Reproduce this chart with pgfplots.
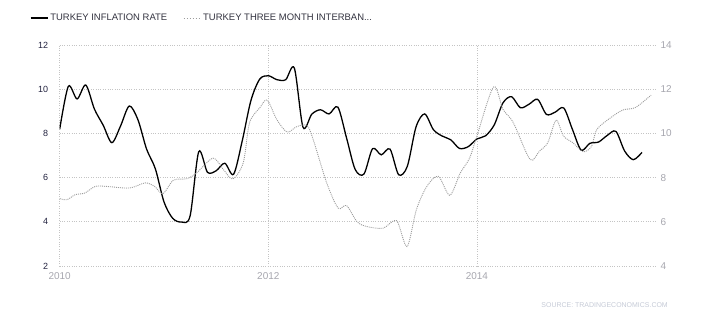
\documentclass[border=0pt]{standalone}
\usepackage{fontspec}
\setmainfont{Liberation Sans}
\usepackage{pgfplots}
\pgfplotsset{compat=1.18}
\definecolor{leftlab}{HTML}{22223F}
\definecolor{graylab}{HTML}{A6A6AE}
\definecolor{gridc}{HTML}{C4C4C4}
\definecolor{ibc}{HTML}{9C9C9C}
\definecolor{srcc}{HTML}{C5CAD6}
\definecolor{legc}{HTML}{333340}
\begin{document}
\begin{tikzpicture}
\useasboundingbox (0,0) rectangle (710bp,320bp);
\begin{axis}[
  at={(59.7bp,54bp)}, anchor=south west, scale only axis,
  width=597.3bp, height=221bp,
  xmin=2010, xmax=2015.727, ymin=2, ymax=12,
  ytick={2,4,6,8,10,12},
  xtick={2010,2012,2014}, xticklabels={2010,2012,2014},
  grid=major, major grid style={gridc, dotted, line width=0.6pt},
  axis line style={draw=none}, major tick length=0pt,
  /pgf/number format/assume math mode=true,
  yticklabel style={leftlab, font=\fontsize{9}{10}\selectfont, xshift=-8bp},
  xticklabel style={graylab, font=\fontsize{10}{10}\selectfont, yshift=-3bp},
  legend columns=2,
  legend image code/.code={\draw[#1] (0bp,0bp) -- (17bp,0bp);},
  legend style={draw=none, fill=none, at={(-0.05,1.122)}, anchor=west,
    font=\fontsize{9.5}{10}\selectfont, text=legc, inner sep=0pt,
    /tikz/every even column/.append style={column sep=14bp}},
]
\addplot[black, line width=1.3pt, smooth, tension=0.5] coordinates {
(2010.000,8.19) (2010.083,10.13) (2010.167,9.56) (2010.250,10.19) (2010.333,9.10) (2010.417,8.37)
(2010.500,7.58) (2010.583,8.33) (2010.667,9.24) (2010.750,8.62) (2010.833,7.29) (2010.917,6.40)
(2011.000,4.90) (2011.083,4.16) (2011.167,3.99) (2011.250,4.26) (2011.333,7.17) (2011.417,6.24)
(2011.500,6.31) (2011.583,6.65) (2011.667,6.15) (2011.750,7.66) (2011.833,9.48) (2011.917,10.45)
(2012.000,10.61) (2012.083,10.43) (2012.167,10.43) (2012.250,10.95) (2012.333,8.28) (2012.417,8.87)
(2012.500,9.07) (2012.583,8.88) (2012.667,9.19) (2012.750,7.80) (2012.833,6.37) (2012.917,6.16)
(2013.000,7.31) (2013.083,7.03) (2013.167,7.29) (2013.250,6.13) (2013.333,6.51) (2013.417,8.30)
(2013.500,8.88) (2013.583,8.17) (2013.667,7.88) (2013.750,7.71) (2013.833,7.32) (2013.917,7.40)
(2014.000,7.75) (2014.083,7.89) (2014.167,8.39) (2014.250,9.38) (2014.333,9.66) (2014.417,9.16)
(2014.500,9.32) (2014.583,9.54) (2014.667,8.86) (2014.750,8.96) (2014.833,9.15) (2014.917,8.17)
(2015.000,7.24) (2015.083,7.55) (2015.167,7.61) (2015.250,7.91) (2015.333,8.09) (2015.417,7.20)
(2015.500,6.81) (2015.583,7.14)
};
\addlegendentry{TURKEY INFLATION RATE}
\addlegendimage{ibc, line width=1pt, dash pattern=on 1.5bp off 1.5bp}
\addlegendentry{TURKEY THREE MONTH INTERBAN...}
\end{axis}
\begin{axis}[
  at={(59.7bp,54bp)}, anchor=south west, scale only axis,
  width=597.3bp, height=221bp,
  xmin=2010, xmax=2015.727, ymin=4, ymax=14,
  ytick={4,6,8,10,12,14},
  axis y line*=right, axis x line=none,
  axis line style={draw=none}, major tick length=0pt,
  /pgf/number format/assume math mode=true,
  yticklabel style={graylab, font=\fontsize{10}{10}\selectfont, xshift=0bp},
]
\addplot[ibc, line width=0.9pt, dash pattern=on 1bp off 1bp, smooth, tension=0.5] coordinates {
(2010.00,7.05) (2010.07,7.00) (2010.15,7.23) (2010.24,7.30) (2010.34,7.60) (2010.45,7.60)
(2010.67,7.53) (2010.82,7.76) (2010.91,7.60) (2010.99,7.27) (2011.09,7.88) (2011.22,7.95)
(2011.31,8.20) (2011.47,8.88) (2011.57,8.36) (2011.66,7.94) (2011.76,8.67) (2011.82,10.48)
(2011.92,11.17) (2011.99,11.51) (2012.08,10.64) (2012.18,10.06) (2012.27,10.30) (2012.37,10.36)
(2012.43,9.73) (2012.56,7.76) (2012.67,6.62) (2012.75,6.74) (2012.85,6.01) (2012.94,5.79)
(2013.10,5.71) (2013.23,6.05) (2013.33,4.88) (2013.42,6.55) (2013.52,7.60) (2013.63,8.06)
(2013.74,7.20) (2013.84,8.20) (2013.93,8.88) (2014.00,9.88) (2014.16,12.10) (2014.25,11.09)
(2014.35,10.48) (2014.51,8.82) (2014.60,9.20) (2014.68,9.58) (2014.76,10.60) (2014.83,9.88)
(2014.92,9.58) (2015.02,9.17) (2015.10,9.42) (2015.15,10.18) (2015.28,10.70) (2015.40,11.06)
(2015.52,11.17) (2015.67,11.73)
};
\end{axis}
\node[anchor=east, text=srcc, font=\fontsize{7}{8}\selectfont, inner sep=0pt] at (668bp,15bp) {SOURCE: TRADINGECONOMICS.COM};
\end{tikzpicture}
\end{document}
